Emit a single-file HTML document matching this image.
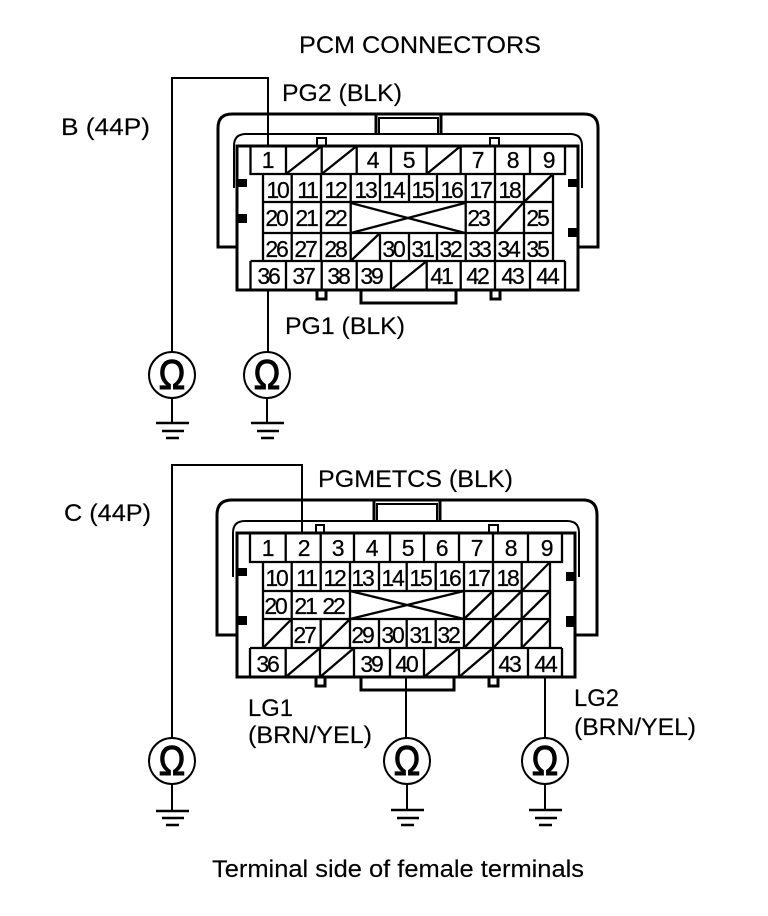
<!DOCTYPE html>
<html><head><meta charset="utf-8"><style>
html,body{margin:0;padding:0;background:#fff}
svg{display:block}
text{font-family:"Liberation Sans",sans-serif;fill:#000}
.l{font-size:24px;stroke:#000;stroke-width:.15px}
.n text,.n{font-size:23px;letter-spacing:-2.2px;text-anchor:middle;stroke:#000;stroke-width:.25px}
.o{font-size:42px;text-anchor:middle;stroke:#000;stroke-width:1.1px}
</style></head><body>
<svg width="768" height="916" viewBox="0 0 768 916" xmlns="http://www.w3.org/2000/svg">
<g fill="none" stroke="#000" stroke-width="2">
<!-- Connector B -->
<path d="M237 247H218V128Q218 114 232 114H584Q598 114 598 128V247H578" stroke-width="3"/>
<path d="M234 188V146Q234 134 246 134H570Q582 134 582 146V188" stroke-width="2"/>
<path d="M376 134V114M441 134V114" stroke-width="3"/><path d="M379 134V118H438V134"/>
<path d="M237 146H578V290H237Z" stroke-width="3"/>
<path d="M317 146V138H326V146M490 146V138H499V146"/>
<path d="M361 291V303H456V291" stroke-width="3"/>
<path d="M317 291V299H326V291M491 291V299H500V291" stroke-width="3"/>
<g stroke-width="2.300">
<path d="M250.500 146V174H565V146M286 146V174M321.700 146V174M356.700 146V174M391 146V174M426.700 146V174M460.700 146V174M495 146V174M530 146V174"/>
<path d="M286 174L321.700 146M321.700 174L356.700 146M426.700 174L460.700 146"/>
<path d="M263 174V261M553 174V261M263 202H553M263 233H553"/>
<path d="M291.700 174V261M321 174V261M350.700 174V261M380 174V202M409 174V202M437 174V202M465.700 174V261M495 174V261M524 174V261"/>
<path d="M380 233V261M409 233V261M437 233V261"/>
<path d="M524 202L553 174M495 233L524 202M350.700 261L380 233"/>
<path d="M351 203L465 233M351 233L465 203"/>
<path d="M250.500 261V290M565 261V290M250.500 261H565M286 261V290M321.700 261V290M356.700 261V290M391 261V290M426.700 261V290M460.700 261V290M495 261V290M530 261V290"/>
<path d="M391 290L426.700 261"/>
</g>
<!-- Connector C -->
<path d="M237 635H217V515Q217 500 232 500H583Q597 500 597 515V635H575" stroke-width="3"/>
<path d="M233 577V533Q233 521 245 521H567Q579 521 579 533V577" stroke-width="2"/>
<path d="M374 521V501M440 521V501" stroke-width="3"/><path d="M377 521V504H437V521"/>
<path d="M237 533H575V677H237Z" stroke-width="3"/>
<path d="M316 533V525H324V533M489 533V525H498V533"/>
<path d="M361 678V690H454V678" stroke-width="3"/>
<path d="M316 678V686H325V678M489 678V686H498V678" stroke-width="3"/>
<g stroke-width="2.300">
<path d="M250 533V562H562V533M285.700 533V562M320.700 533V562M354 533V562M390 533V562M424 533V562M459 533V562M493 533V562M528 533V562"/>
<path d="M263 562V648M550 562V648M263 591H550M263 619H550"/>
<path d="M291.700 562V648M320.700 562V591M350 562V648M379 562V591M406.700 562V591M435.700 562V591M464 562V648M493 562V648M521.700 562V648M320.700 619V648M379 619V648M406.700 619V648M435.700 619V648"/>
<path d="M521.700 591L550 562M493 619L521.700 591M464 619L493 591M521.700 619L550 591M263 648L291.700 619M320.700 648L350 619M464 648L493 619M493 648L521.700 619M521.700 648L550 619"/>
<path d="M350 591L464 619M350 619L464 591"/>
<path d="M250 648V677M562 648V677M250 648H562M285.700 648V677M320 648V677M354 648V677M390 648V677M424 648V677M459 648V677M493 648V677M528 648V677"/>
<path d="M285.700 677L320 648M320 677L354 648M424 677L459 648M459 677L493 648"/>
</g>
<!-- Wires -->
<path d="M268 146V78H172V352M268 291V352M172 398V423M267 398V423"/>
<path d="M302 533V465H172V738M406 678V738M545 678V738M172 784V810M407 784V810M545 784V810"/>
<circle cx="172" cy="375" r="23"/><circle cx="267" cy="375" r="23"/>
<circle cx="172" cy="761" r="23"/><circle cx="407" cy="761" r="23"/><circle cx="545" cy="761" r="23"/>
<path d="M156 423H189M162 431H184M166 438H179M251 423H284M257 431H279M261 438H274" stroke-width="2.500"/>
<path d="M156 811H189M162 818H184M166 825H179M391 810H424M397 818H419M401 825H414M529 810H562M535 818H557M539 825H552" stroke-width="2.500"/>
</g>
<!-- Black squares -->
<path d="M238 179h9v8h-9zM238 214h9v9h-9zM568 179h10v8h-10zM568 228h10v9h-10zM238 568h9v8h-9zM238 616h9v9h-9zM566 572h9v9h-9zM566 616h9v11h-9z" fill="#000"/>
<!-- Omegas -->
<g class="o">
<text transform="translate(172 389) scale(.85 1)">Ω</text>
<text transform="translate(267 389) scale(.85 1)">Ω</text>
<text transform="translate(172 775) scale(.85 1)">Ω</text>
<text transform="translate(407 775) scale(.85 1)">Ω</text>
<text transform="translate(545 775) scale(.85 1)">Ω</text>
</g>
<!-- Labels -->
<g class="l">
<text x="299" y="53" textLength="242" lengthAdjust="spacingAndGlyphs">PCM CONNECTORS</text>
<text x="282" y="101" textLength="120" lengthAdjust="spacingAndGlyphs">PG2 (BLK)</text>
<text x="61" y="135" textLength="89" lengthAdjust="spacingAndGlyphs">B (44P)</text>
<text x="285" y="334" textLength="120" lengthAdjust="spacingAndGlyphs">PG1 (BLK)</text>
<text x="318" y="487" textLength="195" lengthAdjust="spacingAndGlyphs">PGMETCS (BLK)</text>
<text x="64" y="521" textLength="87" lengthAdjust="spacingAndGlyphs">C (44P)</text>
<text x="248" y="716" textLength="45" lengthAdjust="spacingAndGlyphs">LG1</text>
<text x="248" y="743" textLength="124" lengthAdjust="spacingAndGlyphs">(BRN/YEL)</text>
<text x="574" y="706" textLength="45" lengthAdjust="spacingAndGlyphs">LG2</text>
<text x="574" y="735" textLength="122" lengthAdjust="spacingAndGlyphs">(BRN/YEL)</text>
<text x="212" y="877" textLength="372" lengthAdjust="spacingAndGlyphs">Terminal side of female terminals</text>
</g>
<!-- Numbers B -->
<g class="n">
<text x="267" y="168">1</text><text x="372" y="168">4</text><text x="408" y="168">5</text><text x="477" y="168">7</text><text x="512" y="168">8</text><text x="548" y="168">9</text>
<text x="277" y="198">10</text><text x="307" y="198">11</text><text x="335" y="198">12</text><text x="365" y="198">13</text><text x="393" y="198">14</text><text x="422" y="198">15</text><text x="451" y="198">16</text><text x="480" y="198">17</text><text x="509" y="198">18</text>
<text x="276" y="226">20</text><text x="306" y="226">21</text><text x="335" y="226">22</text><text x="478" y="226">23</text><text x="537" y="226">25</text>
<text x="276" y="257">26</text><text x="305" y="257">27</text><text x="335" y="257">28</text><text x="393" y="257">30</text><text x="422" y="257">31</text><text x="450" y="257">32</text><text x="479" y="257">33</text><text x="508" y="257">34</text><text x="537" y="257">35</text>
<text x="268" y="284">36</text><text x="303" y="284">37</text><text x="338" y="284">38</text><text x="371" y="284">39</text><text x="441" y="284">41</text><text x="477" y="284">42</text><text x="512" y="284">43</text><text x="547" y="284">44</text>
</g>
<!-- Numbers C -->
<g class="n">
<text x="267" y="556">1</text><text x="303" y="556">2</text><text x="337" y="556">3</text><text x="371" y="556">4</text><text x="407" y="556">5</text><text x="441" y="556">6</text><text x="476" y="556">7</text><text x="510" y="556">8</text><text x="546" y="556">9</text>
<text x="276" y="586">10</text><text x="306" y="586">11</text><text x="334" y="586">12</text><text x="362" y="586">13</text><text x="392" y="586">14</text><text x="420" y="586">15</text><text x="449" y="586">16</text><text x="478" y="586">17</text><text x="507" y="586">18</text>
<text x="275" y="614">20</text><text x="305" y="614">21</text><text x="333" y="614">22</text>
<text x="304" y="643">27</text><text x="362" y="643">29</text><text x="392" y="643">30</text><text x="420" y="643">31</text><text x="448" y="643">32</text>
<text x="267" y="672">36</text><text x="371" y="672">39</text><text x="406" y="672">40</text><text x="509" y="672">43</text><text x="545" y="672">44</text>
</g>
</svg>
</body></html>
